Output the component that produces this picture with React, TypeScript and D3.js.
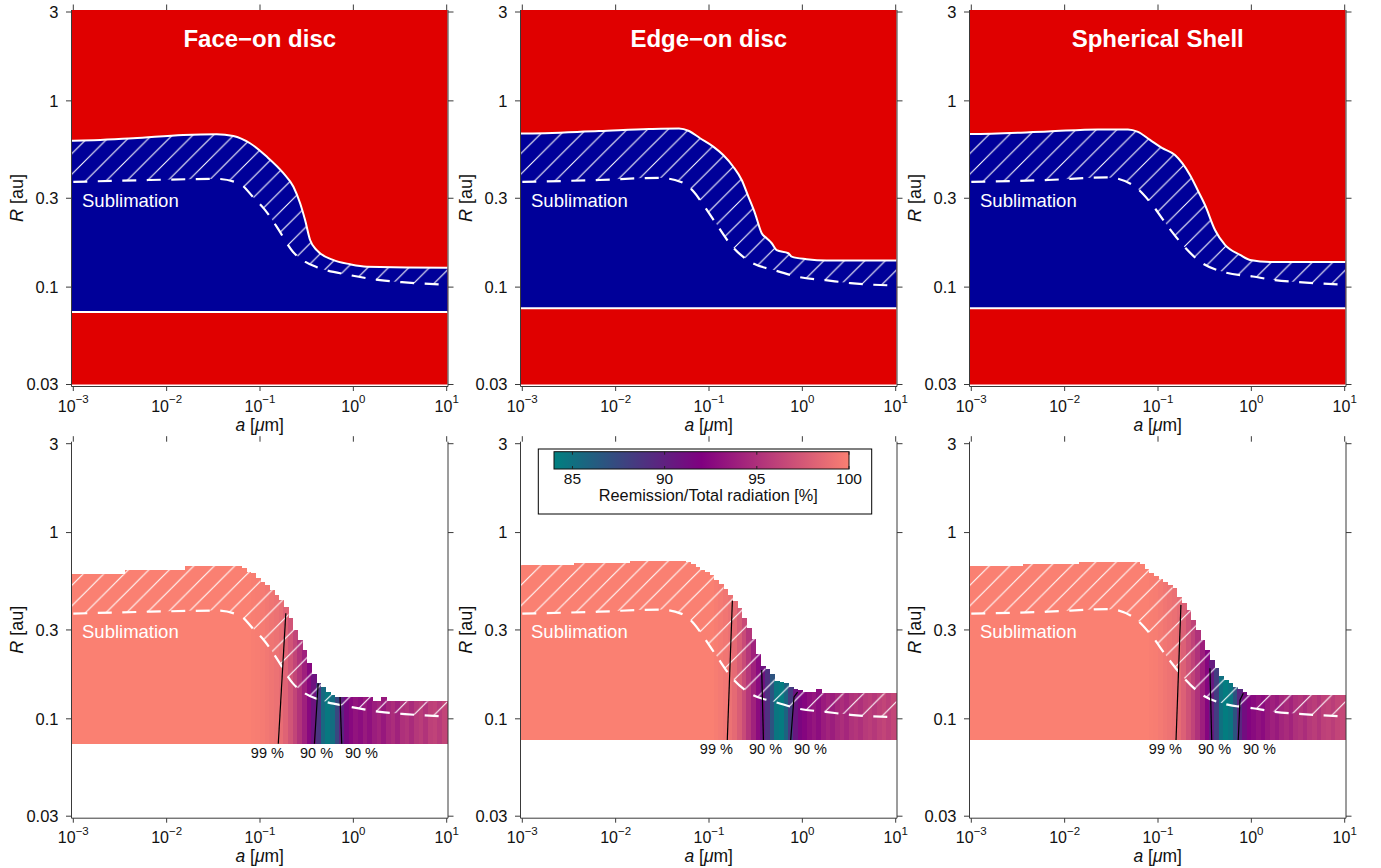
import React from "react";
import * as d3 from "d3";

// ---------------- data ----------------
const panelTitles = ["Face−on disc", "Edge−on disc", "Spherical Shell"];
const xTickValues = [0.001, 0.01, 0.1, 1, 10];
const xTickExponents = ["−3", "−2", "−1", "0", "1"];
const yTickValues = [3, 1, 0.3, 0.1, 0.03];
const yTickLabels = ["3", "1", "0.3", "0.1", "0.03"];
const cbarTicks = [85, 90, 95, 100];
const cbarStops = [84, 92, 100];
const cbarColors = ["#008080", "#800080", "#fa8072"];
const cbarLabel = "Reemission/Total radiation [%]";

// grain-size grid: 20 columns per decade from 1e-3 to 1e1 µm
const columnsPerDecade = 20;
const nColumns = 80;

// outer boundary of the hot-dust region (top panels, smooth model curve): a [µm], R [au]
const outerFaceOnA = [0.001, 0.00439, 0.01507, 0.0344, 0.0518, 0.0782, 0.118, 0.178, 0.228, 0.269, 0.304, 0.344, 0.405, 0.605, 0.921, 1.39, 10];
const outerFaceOnR = [0.611, 0.63, 0.656, 0.662, 0.648, 0.592, 0.502, 0.409, 0.346, 0.282, 0.229, 0.179, 0.158, 0.14, 0.1327, 0.1288, 0.1272];
const outerEdgeOnA = [0.001, 0.00664, 0.0228, 0.0477, 0.0611, 0.0802, 0.111, 0.142, 0.182, 0.224, 0.264, 0.311, 0.367, 0.415, 0.47, 0.531, 0.708, 0.769, 1.11, 1.82, 10];
const outerEdgeOnR = [0.668, 0.689, 0.706, 0.711, 0.689, 0.63, 0.568, 0.512, 0.443, 0.376, 0.306, 0.249, 0.1946, 0.183, 0.172, 0.158, 0.152, 0.1458, 0.1412, 0.1388, 0.1388];
const outerShellA = [0.001, 0.00664, 0.0228, 0.0477, 0.0611, 0.082, 0.11, 0.152, 0.22, 0.269, 0.319, 0.408, 0.522, 0.757, 0.969, 1.59, 10];
const outerShellR = [0.664, 0.685, 0.702, 0.702, 0.681, 0.617, 0.559, 0.512, 0.4, 0.328, 0.276, 0.2026, 0.1684, 0.1489, 0.1399, 0.1365, 0.1365];

// outer boundary on the simulation grid (bottom panels), R [au] per grain-size column
const upperFaceOn = [
  0.597, 0.597, 0.597, 0.597, 0.597, 0.597, 0.597, 0.597, 0.597, 0.597, 0.597,
  0.63, 0.63, 0.63, 0.63, 0.63, 0.63, 0.63, 0.63, 0.63, 0.63, 0.63, 0.63, 0.63,
  0.662, 0.662, 0.662, 0.662, 0.662, 0.662, 0.662, 0.662, 0.662, 0.662, 0.662, 0.662,
  0.646, 0.617, 0.604, 0.568, 0.545, 0.522, 0.491, 0.461, 0.434, 0.399,
  0.347, 0.3, 0.265, 0.234, 0.199, 0.175, 0.155, 0.149, 0.14, 0.134,
  0.131, 0.131, 0.131, 0.131, 0.131, 0.131, 0.131, 0.131,
  0.124, 0.124, 0.131,
  0.124, 0.124, 0.124, 0.124, 0.124, 0.124, 0.124, 0.124, 0.124, 0.124, 0.124, 0.124, 0.124,
];
const upperEdgeOn = [
  0.668, 0.668, 0.668, 0.668, 0.668, 0.668, 0.668, 0.668, 0.668, 0.668, 0.668,
  0.685, 0.685, 0.685, 0.685, 0.685, 0.685, 0.685, 0.685, 0.685, 0.685, 0.685, 0.685,
  0.706, 0.706, 0.706, 0.706, 0.706, 0.706, 0.706, 0.706, 0.706, 0.706, 0.706, 0.706,
  0.698, 0.681, 0.656, 0.632, 0.617, 0.594, 0.558, 0.531, 0.499, 0.463, 0.431,
  0.395, 0.349, 0.308, 0.269, 0.224, 0.193, 0.184, 0.173, 0.16, 0.158,
  0.155, 0.149, 0.145, 0.143,
  0.139, 0.139, 0.139, 0.145,
  0.137, 0.137, 0.137, 0.137, 0.137, 0.137, 0.137, 0.137, 0.137, 0.137, 0.137, 0.137, 0.137, 0.137, 0.137, 0.137,
];
const upperShell = [
  0.664, 0.664, 0.664, 0.664, 0.664, 0.664, 0.664, 0.664, 0.664, 0.664, 0.664,
  0.681, 0.681, 0.681, 0.681, 0.681, 0.681, 0.681, 0.681, 0.681, 0.681, 0.681, 0.681,
  0.698, 0.698, 0.698, 0.698, 0.698, 0.698, 0.698, 0.698, 0.698, 0.698, 0.698, 0.698, 0.698,
  0.676, 0.638, 0.604, 0.585, 0.565, 0.545, 0.522, 0.502, 0.453, 0.417,
  0.384, 0.34, 0.3, 0.265, 0.234, 0.207, 0.187, 0.17, 0.162, 0.155,
  0.149, 0.145, 0.14,
  0.134, 0.134, 0.134, 0.134, 0.134, 0.134, 0.134, 0.134, 0.134, 0.134, 0.134,
  0.134, 0.134, 0.134, 0.134, 0.134, 0.134, 0.134, 0.134, 0.134, 0.134,
];

// reemission / total radiation [%] per grain-size column
const reemFaceOn = [
  100, 100, 100, 100, 100, 100, 100, 100, 100, 100, 100, 100, 100, 100, 100, 100, 100, 100, 100,
  100, 100, 100, 100, 100, 100, 100, 100, 100, 100, 100, 100, 100, 100, 100, 100, 100, 100, 100,
  99.9, 99.8, 99.7, 99.5, 99.3, 99.1, 98.8, 98.2, 97.3, 96.3, 95.2, 94.0, 92.5, 90.8, 88.6, 85.5,
  84.5, 85.2, 87.5, 89.8, 91.5, 92.5, 93.2, 92.8, 93.6, 93.0, 93.8, 94.2, 93.5, 94.4, 94.8, 94.1,
  95.0, 95.3, 94.7, 95.5, 95.8, 95.2, 96.0, 96.2, 95.7, 96.3,
];
const reemEdgeOn = [
  100, 100, 100, 100, 100, 100, 100, 100, 100, 100, 100, 100, 100, 100, 100, 100, 100, 100, 100, 100,
  100, 100, 100, 100, 100, 100, 100, 100, 100, 100, 100, 100, 100, 100, 100, 100, 100, 100, 100, 100, 100,
  99.8, 99.6, 99.4, 99.1, 98.6, 97.8, 96.7, 95.4, 94.1, 92.7, 90.9, 89.0, 86.8, 84.6, 84.3, 85.8,
  88.3, 90.6, 91.7, 92.3, 92.9, 93.4, 92.8, 93.7, 94.2, 93.8, 94.5, 94.9, 94.4, 95.1, 95.4, 95.0,
  95.6, 95.9, 95.5, 96.0, 96.3, 95.9, 96.4,
];
const reemShell = [
  100, 100, 100, 100, 100, 100, 100, 100, 100, 100, 100, 100, 100, 100, 100, 100, 100, 100, 100,
  100, 100, 100, 100, 100, 100, 100, 100, 100, 100, 100, 100, 100, 100, 100, 100, 100, 100, 100,
  99.9, 99.8, 99.6, 99.4, 99.2, 99.0, 98.7, 98.0, 97.1, 96.2, 95.1, 93.9, 92.3, 90.4, 88.2, 85.0,
  84.2, 84.6, 86.8, 89.5, 91.2, 92.2, 92.6, 93.1, 92.7, 93.5, 94.0, 93.6, 94.3, 94.7, 94.2, 95.0,
  95.3, 94.8, 95.5, 95.8, 95.3, 96.0, 96.2, 95.8, 96.3, 96.5,
];

// sublimation radius (dashed line): grain size a [µm] and R [au]
const subFaceOnA = [0.001, 0.00664, 0.0346, 0.0611, 0.0841, 0.113, 0.152, 0.225, 0.303, 0.407, 0.92, 1.93, 3.58, 10];
const subFaceOnR = [0.367, 0.376, 0.381, 0.358, 0.305, 0.26, 0.21, 0.155, 0.137, 0.128, 0.116, 0.109, 0.106, 0.103];
const subEdgeOnA = [0.001, 0.00664, 0.0291, 0.0501, 0.069, 0.0873, 0.12, 0.176, 0.275, 0.509, 0.944, 1.77, 3.28, 10];
const subEdgeOnR = [0.367, 0.376, 0.386, 0.367, 0.324, 0.276, 0.218, 0.166, 0.137, 0.123, 0.113, 0.109, 0.105, 0.102];
const subShellA = [0.001, 0.00664, 0.0291, 0.0532, 0.0851, 0.124, 0.185, 0.282, 0.522, 1.04, 1.79, 3.53, 10];
const subShellR = [0.367, 0.376, 0.388, 0.354, 0.28, 0.216, 0.168, 0.137, 0.12, 0.114, 0.109, 0.106, 0.103];

// inner (lower) boundary R [au]
const lowerR = [0.0735, 0.077, 0.077];

// contour lines (99 %, 90 %, 90 %)
const contourLabels = ["99 %", "90 %", "90 %"];
const contourLabelA = [0.12, 0.403, 1.22];
const contoursFaceOn = [
  { a: [0.189, 0.157], R: [0.369, 0.0735] },
  { a: [0.42, 0.383], R: [0.155, 0.0735] },
  { a: [0.72, 0.75], R: [0.131, 0.0735] },
];
const contoursEdgeOn = [
  { a: [0.178, 0.157], R: [0.43, 0.077] },
  { a: [0.367, 0.383], R: [0.183, 0.077] },
  { a: [0.89, 0.814, 0.75], R: [0.139, 0.131, 0.077] },
];
const contoursShell = [
  { a: [0.176, 0.156], R: [0.409, 0.077] },
  { a: [0.36, 0.376], R: [0.187, 0.077] },
  { a: [0.82, 0.755, 0.724], R: [0.137, 0.126, 0.077] },
];

const outerAs = [outerFaceOnA, outerEdgeOnA, outerShellA];
const outerRs = [outerFaceOnR, outerEdgeOnR, outerShellR];
const uppers = [upperFaceOn, upperEdgeOn, upperShell];
const reems = [reemFaceOn, reemEdgeOn, reemShell];
const subAs = [subFaceOnA, subEdgeOnA, subShellA];
const subRs = [subFaceOnR, subEdgeOnR, subShellR];
const contours = [contoursFaceOn, contoursEdgeOn, contoursShell];

// ---------------- layout / style ----------------
const FONT = "'Liberation Sans', Arial, Helvetica, sans-serif";
const PANEL_DX = 449;
const ROW_DY = 431.7;
const PLOT = { left: 72, right: 447.5, top: 10, bottom: 384.5 };
const SPINE = { left: 71.5, right: 448, bottom: 386.5 };
const RED = "#e00000";
const BLUE = "#000099";
const AXIS = "#3a3a3a";

const colorScale = d3.scaleLinear<string>().domain(cbarStops).range(cbarColors).interpolate(d3.interpolateRgb);

const colEdge = (i: number) => Math.pow(10, -3 + i / columnsPerDecade);

function Axes({ x, y }: { x: any; y: any }) {
  return (
    <g fontFamily={FONT} fill="#111">
      <line x1={SPINE.left} x2={SPINE.left} y1={PLOT.top} y2={SPINE.bottom} stroke={AXIS} strokeWidth={1} />
      <line x1={SPINE.right} x2={SPINE.right} y1={PLOT.top} y2={SPINE.bottom} stroke={AXIS} strokeWidth={1} />
      <line x1={SPINE.left} x2={SPINE.right} y1={SPINE.bottom} y2={SPINE.bottom} stroke={AXIS} strokeWidth={1} />
      {yTickValues.map((v, i) => (
        <g key={"y" + i}>
          <line x1={SPINE.left - 5.5} x2={SPINE.left} y1={y(v)} y2={y(v)} stroke={AXIS} />
          <line x1={SPINE.right} x2={SPINE.right + 5.5} y1={y(v)} y2={y(v)} stroke={AXIS} />
          <text x={58.5} y={y(v)} dy="0.36em" textAnchor="end" fontSize={16.5}>
            {yTickLabels[i]}
          </text>
        </g>
      ))}
      {xTickValues.map((v, i) => (
        <g key={"x" + i}>
          <line x1={x(v)} x2={x(v)} y1={PLOT.top - 5.5} y2={PLOT.top} stroke={AXIS} />
          <line x1={x(v)} x2={x(v)} y1={SPINE.bottom} y2={SPINE.bottom + 4.5} stroke={AXIS} />
          <text x={x(v)} y={411.8} textAnchor="middle" fontSize={16}>
            10
            <tspan dy={-8.5} fontSize={11.5}>
              {xTickExponents[i]}
            </tspan>
          </text>
        </g>
      ))}
      <text x={259.7} y={430.6} textAnchor="middle" fontSize={17.5}>
        <tspan fontStyle="italic">a</tspan> [<tspan fontStyle="italic">μ</tspan>m]
      </text>
      <text transform="translate(23,198) rotate(-90)" textAnchor="middle" fontSize={18}>
        <tspan fontStyle="italic">R</tspan> [au]
      </text>
    </g>
  );
}

function Panel({ p, row }: { p: number; row: number }) {
  const x = d3.scaleLog().domain([1e-3, 10]).range([73.3, 446.7]);
  const y = d3.scaleLog().domain([0.03, 3]).range([384.5, 12]);
  const upper = uppers[p];
  const reem = reems[p];
  const low = lowerR[p];
  const id = `p${p}r${row}`;

  // smooth outer boundary (top panels), extended to the plot edges
  const oA = outerAs[p];
  const oR = outerRs[p];
  const outerPts: [number, number][] = [[PLOT.left, y(oR[0])], ...oA.map((a, i) => [x(a), y(oR[i])] as [number, number]), [PLOT.right, y(oR[oR.length - 1])]];

  const subPts: [number, number][] = subAs[p].map((a, i) => [x(a), y(subRs[p][i])]);
  const subClipPts: [number, number][] = [[PLOT.left, subPts[0][1]], ...subPts, [PLOT.right, subPts[subPts.length - 1][1]]];

  const curve = d3.curveMonotoneX;
  const blueArea = d3.area<[number, number]>().x((d) => d[0]).y0(y(low)).y1((d) => d[1]).curve(curve)(outerPts) || "";
  const belowOuter = d3.area<[number, number]>().x((d) => d[0]).y0(PLOT.bottom).y1((d) => d[1]).curve(curve)(outerPts) || "";
  const outerLine = d3.line<[number, number]>().curve(curve)(outerPts) || "";
  const aboveSub = d3.area<[number, number]>().x((d) => d[0]).y0(PLOT.top).y1((d) => d[1]).curve(curve)(subClipPts) || "";
  const subLine = d3.line<[number, number]>().curve(curve)(subPts) || "";

  const cols = d3.range(nColumns).map((i) => {
    const x0 = i === 0 ? PLOT.left : x(colEdge(i));
    const x1 = i === nColumns - 1 ? PLOT.right : x(colEdge(i + 1));
    return { x0, x1, top: y(upper[i]), color: colorScale(reem[i]) };
  });

  const hs = 20.5;

  return (
    <g transform={`translate(${p * PANEL_DX},${row * ROW_DY})`}>
      <defs>
        <pattern id={`hatch-${id}`} patternUnits="userSpaceOnUse" width={hs} height={hs}>
          <path d={`M-1,1 l2,-2 M0,${hs} l${hs},${-hs} M${hs - 1},${hs + 1} l2,-2`} stroke="white" strokeWidth={1.1} />
        </pattern>
        <clipPath id={`aboveSub-${id}`}>
          <path d={aboveSub} />
        </clipPath>
        <clipPath id={`below-${id}`}>
          {row === 0 ? (
            <path d={belowOuter} />
          ) : (
            cols.map((c, i) => <rect key={i} x={c.x0} y={c.top} width={c.x1 - c.x0 + 0.5} height={PLOT.bottom - c.top} />)
          )}
        </clipPath>
      </defs>

      {row === 0 ? (
        <g>
          <rect x={PLOT.left} y={PLOT.top} width={PLOT.right - PLOT.left} height={PLOT.bottom - PLOT.top} fill={RED} />
          <path d={blueArea} fill={BLUE} />
        </g>
      ) : (
        <g shapeRendering="crispEdges">
          {cols.map((c, i) => (
            <rect
              key={i}
              x={c.x0}
              y={c.top}
              width={c.x1 - c.x0 + (i === nColumns - 1 ? 0 : 0.6)}
              height={y(low) - c.top}
              fill={c.color}
            />
          ))}
        </g>
      )}

      {/* hatched band between sublimation radius and outer boundary */}
      <g clipPath={`url(#below-${id})`}>
        <rect
          x={PLOT.left}
          y={PLOT.top}
          width={PLOT.right - PLOT.left}
          height={PLOT.bottom - PLOT.top}
          fill={`url(#hatch-${id})`}
          clipPath={`url(#aboveSub-${id})`}
        />
      </g>

      {row === 0 && (
        <g>
          <path d={outerLine} fill="none" stroke="white" strokeWidth={2} />
          <line x1={PLOT.left} x2={PLOT.right} y1={y(low)} y2={y(low)} stroke="white" strokeWidth={2} />
        </g>
      )}
      <path d={subLine} fill="none" stroke="white" strokeWidth={2.2} strokeDasharray="14 10.5" />

      {row === 1 && (
        <g>
          {contours[p].map((c, k) => (
            <path
              key={k}
              d={d3.line<number>().x((a) => x(a)).y((_, j) => y(c.R[j]))(c.a) || ""}
              fill="none"
              stroke="black"
              strokeWidth={1.2}
            />
          ))}
          {contourLabels.map((t, k) => (
            <text key={k} x={x(contourLabelA[k])} y={y(low) + 14.5} textAnchor="middle" fontSize={14.5} fontFamily={FONT} fill="#111">
              {t}
            </text>
          ))}
        </g>
      )}

      <text x={82} y={206.5} fontFamily={FONT} fontSize={18.5} fill="white">
        Sublimation
      </text>
      {row === 0 && (
        <text x={(PLOT.left + PLOT.right) / 2} y={46.7} textAnchor="middle" fontFamily={FONT} fontWeight="bold" fontSize={24} fill="white">
          {panelTitles[p]}
        </text>
      )}

      <Axes x={x} y={y} />

      {row === 1 && p === 1 && <Colorbar />}
    </g>
  );
}

function Colorbar() {
  const cx = d3.scaleLinear().domain([cbarStops[0], cbarStops[cbarStops.length - 1]]).range([105, 400]);
  const barTop = 20;
  const barBottom = 37.3;
  return (
    <g fontFamily={FONT}>
      <defs>
        <linearGradient id="cbar-grad" x1="0" x2="1" y1="0" y2="0">
          {cbarStops.map((v, i) => (
            <stop key={i} offset={(v - cbarStops[0]) / (cbarStops[cbarStops.length - 1] - cbarStops[0])} stopColor={cbarColors[i]} />
          ))}
        </linearGradient>
      </defs>
      <rect x={89.3} y={17.3} width={333.4} height={65} fill="white" stroke="black" strokeWidth={1} />
      <rect x={cx(84)} y={barTop} width={cx(100) - cx(84)} height={barBottom - barTop} fill="url(#cbar-grad)" stroke="#111" strokeWidth={1} />
      {cbarTicks.map((t) => (
        <g key={t}>
          <line x1={cx(t)} x2={cx(t)} y1={barTop} y2={barTop + 3} stroke="#222" />
          <line x1={cx(t)} x2={cx(t)} y1={barBottom - 3} y2={barBottom} stroke="#222" />
          <text x={cx(t)} y={52} textAnchor="middle" fontSize={15.5} fill="#111">
            {t}
          </text>
        </g>
      ))}
      <text x={259.3} y={69.5} textAnchor="middle" fontSize={16.3} fill="#111">
        {cbarLabel}
      </text>
    </g>
  );
}

export default function App() {
  return (
    <svg width={1381} height={868} style={{ position: "absolute", left: 0, top: 0, background: "white" }} xmlns="http://www.w3.org/2000/svg">
      {[0, 1].map((row) => [0, 1, 2].map((p) => <Panel key={`${row}-${p}`} p={p} row={row} />))}
    </svg>
  );
}
